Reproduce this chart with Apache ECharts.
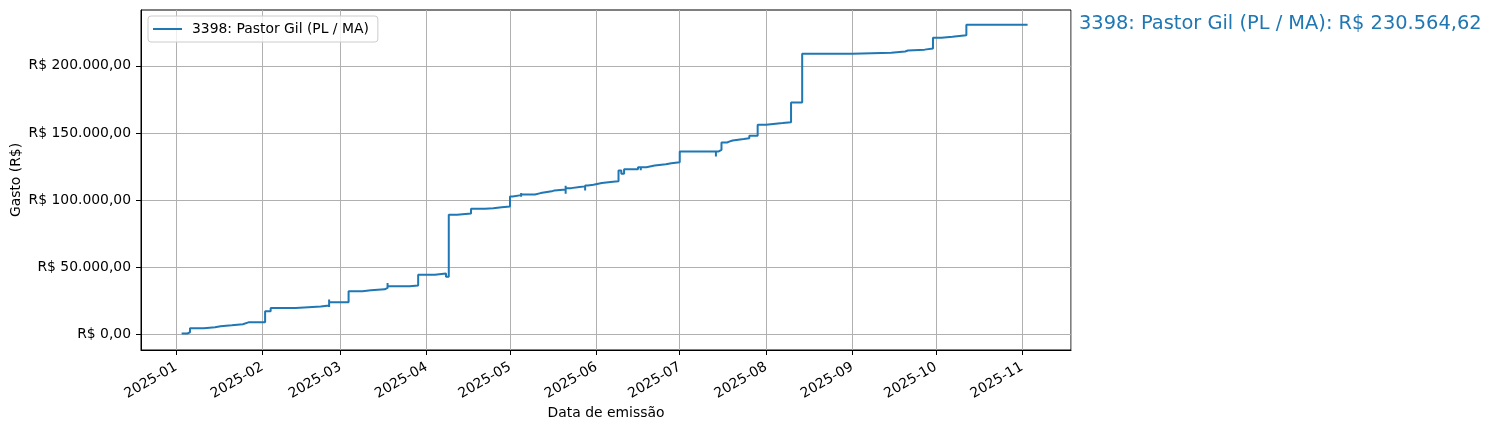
<!DOCTYPE html>
<html>
<head>
<meta charset="utf-8">
<script src="https://cdn.jsdelivr.net/npm/echarts@6/dist/echarts.min.js"></script>
<style>
html,body{margin:0;padding:0;background:#fff;}
#chart{width:1493px;height:430px;}
</style>
</head>
<body>
<div id="chart"></div>
<script>
// ---- data ----
const seriesName = '3398: Pastor Gil (PL / MA)';
const totalLabel = 'R$ 230.564,62';
const dates = [
  '2025-01-03','2025-01-05','2025-01-06','2025-01-11','2025-01-15','2025-01-17','2025-01-21','2025-01-25',
  '2025-01-27','2025-01-27','2025-02-02','2025-02-04','2025-02-13','2025-02-22',
  '2025-02-25','2025-02-25','2025-02-25',
  '2025-03-04','2025-03-09','2025-03-12','2025-03-17','2025-03-18','2025-03-18','2025-03-18',
  '2025-03-26','2025-03-29','2025-04-04','2025-04-08','2025-04-09','2025-04-09','2025-04-12',
  '2025-04-17','2025-04-22','2025-04-25','2025-04-28','2025-05-01','2025-05-02',
  '2025-05-05','2025-05-05','2025-05-05','2025-05-10','2025-05-12','2025-05-16','2025-05-17',
  '2025-05-21','2025-05-21','2025-05-21','2025-05-23','2025-05-26','2025-05-28','2025-05-28',
  '2025-05-29','2025-05-31','2025-06-03','2025-06-07','2025-06-09','2025-06-10','2025-06-11',
  '2025-06-16','2025-06-17','2025-06-17','2025-06-19','2025-06-22','2025-06-26','2025-06-28',
  '2025-07-01','2025-07-14','2025-07-14','2025-07-15','2025-07-16','2025-07-18','2025-07-19',
  '2025-07-20','2025-07-24','2025-07-26','2025-07-29','2025-08-01','2025-08-07','2025-08-10',
  '2025-08-14','2025-09-01','2025-09-15','2025-09-20','2025-09-21','2025-09-27','2025-09-30',
  '2025-10-03','2025-10-07','2025-10-12','2025-11-03'
];
const values = [
  700,1700,4700,5500,6200,6900,7700,9100,
  10300,9100,17300,19800,20800,21600,
  26000,20500,24000,
  32200,32900,33700,34700,38400,34200,35900,
  36600,44600,45400,43100,61200,89200,90200,
  93700,94000,94700,95300,102800,103800,
  105300,102600,104300,105300,106600,107300,108000,
  110800,104800,109000,109800,110300,107300,111000,
  111500,112800,113800,114200,122100,119700,123100,
  124600,122400,124600,125800,126800,127500,128300,
  136300,132600,136300,137500,143000,143800,144500,
  145500,146200,148000,156100,157400,158100,172700,
  209000,209800,210700,211400,212100,212900,221000,
  221700,222800,230564.62,230564.62
];
const yTickValues = [0, 50000, 100000, 150000, 200000];

// ---- helpers ----
const ts = d => Date.parse(d + 'T00:00:00Z');
const seriesData = dates.map((d, i) => [ts(d), values[i]]);
function brl(v) {
  const neg = v < 0;
  const s = Math.abs(v).toFixed(2);
  let [ip, dp] = s.split('.');
  ip = ip.replace(/\B(?=(\d{3})+(?!\d))/g, '.');
  return 'R$ ' + (neg ? '-' : '') + ip + ',' + dp;
}
function ym(v) {
  const d = new Date(v);
  return d.getUTCFullYear() + '-' + String(d.getUTCMonth() + 1).padStart(2, '0');
}

const FONT = 'DejaVu Sans';
const chart = echarts.init(document.getElementById('chart'), null, {renderer: 'canvas'});
chart.setOption({
  useUTC: true,
  animation: false,
  backgroundColor: '#fff',
  textStyle: {fontFamily: FONT},
  grid: {
    left: 141, right: 422, top: 10, bottom: 80,
    show: true, borderColor: '#000', borderWidth: 1, backgroundColor: '#fff',
    containLabel: false,
    outerBoundsMode: 'none'
  },
  legend: {
    left: 148, top: 16,
    data: [seriesName],
    icon: 'rect',
    itemWidth: 29, itemHeight: 2,
    padding: [5, 9, 5, 5],
    backgroundColor: 'rgba(255,255,255,0.8)',
    borderColor: '#cccccc', borderWidth: 1, borderRadius: 3,
    textStyle: {fontFamily: FONT, fontSize: 13.9, color: '#000', padding: [0, 0, 0, 5], lineHeight: 16}
  },
  xAxis: {
    type: 'time',
    min: Date.parse('2024-12-19T09:36:00Z'),
    max: Date.parse('2025-11-18T14:24:00Z'),
    minInterval: 28 * 86400000,
    maxInterval: 31 * 86400000,
    name: 'Data de emissão',
    nameLocation: 'middle',
    nameGap: 56,
    nameMoveOverlap: false,
    nameTextStyle: {fontFamily: FONT, fontSize: 13.9, color: '#000'},
    axisLine: {show: true, onZero: false, lineStyle: {color: '#000', width: 1}},
    axisTick: {show: true, length: 5, inside: false, lineStyle: {color: '#000', width: 1}},
    axisLabel: {
      show: true, rotate: 30, margin: 16, color: '#000', fontFamily: FONT, fontSize: 13.9,
      formatter: v => ym(v), hideOverlap: false, showMinLabel: false, showMaxLabel: false
    },
    splitLine: {show: true, lineStyle: {color: '#b0b0b0', width: 1}}
  },
  yAxis: {
    type: 'value',
    min: -11500,
    max: 241600,
    splitNumber: 5,
    name: 'Gasto (R$)',
    nameLocation: 'middle',
    nameRotate: 90,
    nameGap: 118,
    nameMoveOverlap: false,
    nameTextStyle: {fontFamily: FONT, fontSize: 13.9, color: '#000'},
    axisLine: {show: true, onZero: false, lineStyle: {color: '#000', width: 1}},
    axisTick: {show: true, length: 5, inside: false, lineStyle: {color: '#000', width: 1}, customValues: yTickValues},
    axisLabel: {
      show: true, margin: 10, color: '#000', fontFamily: FONT, fontSize: 13.9,
      customValues: yTickValues, formatter: v => brl(v)
    },
    splitLine: {show: true, lineStyle: {color: '#b0b0b0', width: 1}}
  },
  series: [{
    name: seriesName,
    type: 'line',
    step: 'end',
    symbol: 'none',
    showSymbol: false,
    data: seriesData,
    lineStyle: {color: '#1f77b4', width: 2},
    itemStyle: {color: '#1f77b4'},
    z: 3
  }],
  graphic: [{
    type: 'text',
    left: 1079, top: 14,
    style: {
      text: seriesName + ': ' + totalLabel,
      fill: '#1f77b4',
      font: '19.4px "DejaVu Sans"'
    }
  }]
});
</script>
</body>
</html>
